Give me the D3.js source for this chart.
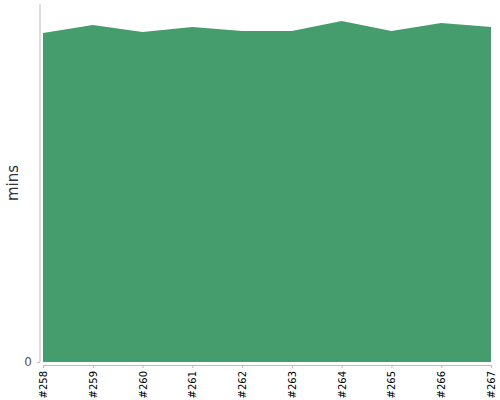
<!DOCTYPE html>
<html>
<head>
<meta charset="utf-8">
<script src="https://cdn.jsdelivr.net/npm/d3@7"></script>
<style>
  body { margin: 0; background: #fff; }
  svg { display: block; }
</style>
</head>
<body>
<script>
const builds = ["#258", "#259", "#260", "#261", "#262", "#263", "#264", "#265", "#266", "#267"];
const minutes = [19.30, 19.77, 19.36, 19.65, 19.42, 19.42, 20.0, 19.42, 19.89, 19.65];
const yTicks = [0];

const width = 500;
const height = 400;
const margin = { top: 4, right: 9, bottom: 38, left: 43 };
const labelFont = "'DejaVu Sans', Verdana, sans-serif";

const svg = d3.select("body")
  .append("svg")
  .attr("width", width)
  .attr("height", height);

const x = d3.scalePoint()
  .domain(builds)
  .range([margin.left, width - margin.right]);

const y = d3.scaleLinear()
  .domain([0, d3.max(minutes) * 1.05])
  .range([height - margin.bottom, margin.top]);

const area = d3.area()
  .x((d, i) => x(builds[i]))
  .y0(y(0))
  .y1(d => y(d));

svg.append("path")
  .datum(minutes)
  .attr("fill", "#459c6c")
  .attr("d", area);

// y axis
const yAxis = svg.append("g")
  .attr("transform", `translate(${margin.left - 3},0)`)
  .call(d3.axisLeft(y).tickValues(yTicks).tickSize(3).tickPadding(5))
  .attr("font-family", labelFont)
  .attr("font-size", 12);
yAxis.select(".domain").attr("stroke", "#bbb").attr("d", `M0,${margin.top}V${y(0)}`);
yAxis.selectAll(".tick line").attr("stroke", "#bbb");
yAxis.selectAll(".tick text").attr("fill", "#555");

// x axis
const xAxis = svg.append("g")
  .attr("transform", `translate(0,${y(0) + 3})`)
  .call(d3.axisBottom(x).tickSize(3).tickSizeOuter(0))
  .attr("font-family", labelFont)
  .attr("font-size", 10);
xAxis.select(".domain").attr("stroke", "#bbb");
xAxis.selectAll(".tick line").attr("stroke", "#bbb");
xAxis.selectAll(".tick text")
  .attr("fill", "#000")
  .attr("text-anchor", "end")
  .attr("transform", "rotate(-90)")
  .attr("x", -6)
  .attr("y", 0)
  .attr("dy", "0.35em");

svg.append("text")
  .attr("transform", `translate(18,${(margin.top + y(0)) / 2}) rotate(-90)`)
  .attr("text-anchor", "middle")
  .attr("font-family", labelFont)
  .attr("fill", "#333")
  .attr("font-size", 15)
  .text("mins");
</script>
</body>
</html>
